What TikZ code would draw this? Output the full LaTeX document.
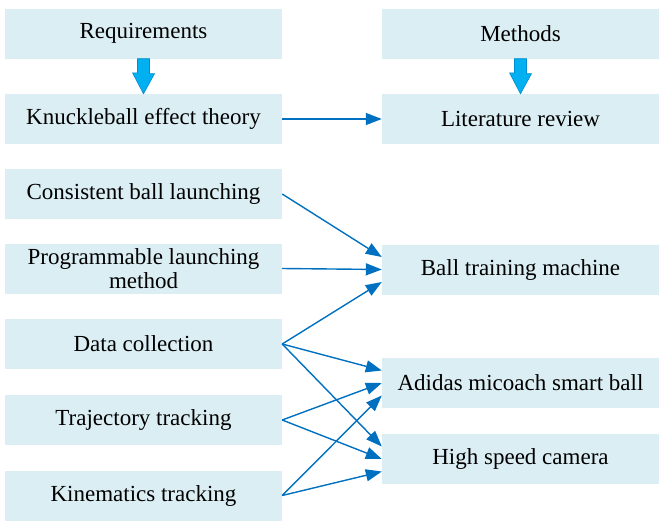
\documentclass[tikz,border=0pt]{standalone}
\usepackage{fontspec}
\setmainfont{Liberation Serif}
\usepackage{tikz}
\usetikzlibrary{arrows.meta,shapes}
\definecolor{boxfill}{RGB}{219,238,244}
\definecolor{linkblue}{RGB}{0,112,192}
\definecolor{fatblue}{RGB}{0,176,240}
\definecolor{fatedge}{RGB}{0,140,210}
\newcommand{\bwidth}{277pt}
\newcommand{\bheight}{50pt}
\newcommand{\lx}{143.5}
\newcommand{\rx}{520.5}
\newcommand{\qs}{12.5pt}
\newcommand{\fatarrow}[2]{\draw[fat] (#1.south) ++(-6,0) -- ++(12,0) -- ++(0,15) -- ++(5,0) -- (#2.north) -- ++(-11,-21) -- ++(5,0) -- cycle;}

\begin{document}
\begin{tikzpicture}[x=1pt,y=-1pt,
	box/.style={fill=boxfill, minimum width=\bwidth, minimum height=\bheight, align=center, inner sep=0pt, font=\fontsize{23}{24}\selectfont},
	link/.style={draw=linkblue, line width=1.4pt, -{Triangle[length=16pt 0 0,width=12pt 0 0]}},
	fat/.style={draw=fatedge, fill=fatblue, line width=0.6pt}]
	
	\useasboundingbox (0,0) rectangle (665,528);
	%\draw[help lines,step=25] (0,0) grid (665,528);
	
	% requirements
	\node[box] (req) at (\lx,33.5) {Requirements};
	\node[box] (kbe) at (\lx,119) {Knuckleball effect theory};
	\node[box] (cbl) at (\lx,194) {Consistent ball launching};
	\node[box] (plm) at (\lx,268.5) {Programmable launching\\method};
	\node[box] (dc) at (\lx,344) {Data collection};
	\node[box] (tt) at (\lx,420) {Trajectory tracking};
	\node[box] (kt) at (\lx,495.5) {Kinematics tracking};
	
	% methods
	\node[box] (meth) at (\rx,33.5) {Methods};
	\node[box] (lit) at (\rx,119) {Literature review};
	\node[box] (btm) at (\rx,269.5) {Ball training machine};
	\node[box] (ams) at (\rx,383) {Adidas micoach smart ball};
	\node[box] (hsc) at (\rx,459) {High speed camera};
	
	\fatarrow{req}{kbe}
	\fatarrow{meth}{lit}
	
	\draw[link] (kbe.east) -- (lit.west);
	\draw[link] (cbl.east) -- ([yshift=\qs]btm.west);
	\draw[link] (plm.east) -- (btm.west);
	\draw[link] (dc.east) -- ([yshift=-\qs]btm.west);
	\draw[link] (dc.east) -- ([yshift=\qs]ams.west);
	\draw[link] (dc.east) -- ([yshift=\qs]hsc.west);
	\draw[link] (tt.east) -- (ams.west);
	\draw[link] (tt.east) -- (hsc.west);
	\draw[link] (kt.east) -- ([yshift=-\qs]ams.west);
	\draw[link] (kt.east) -- ([yshift=-\qs]hsc.west);
	%\draw[link] (kt.east) -- (btm.west);
\end{tikzpicture}
\end{document}
